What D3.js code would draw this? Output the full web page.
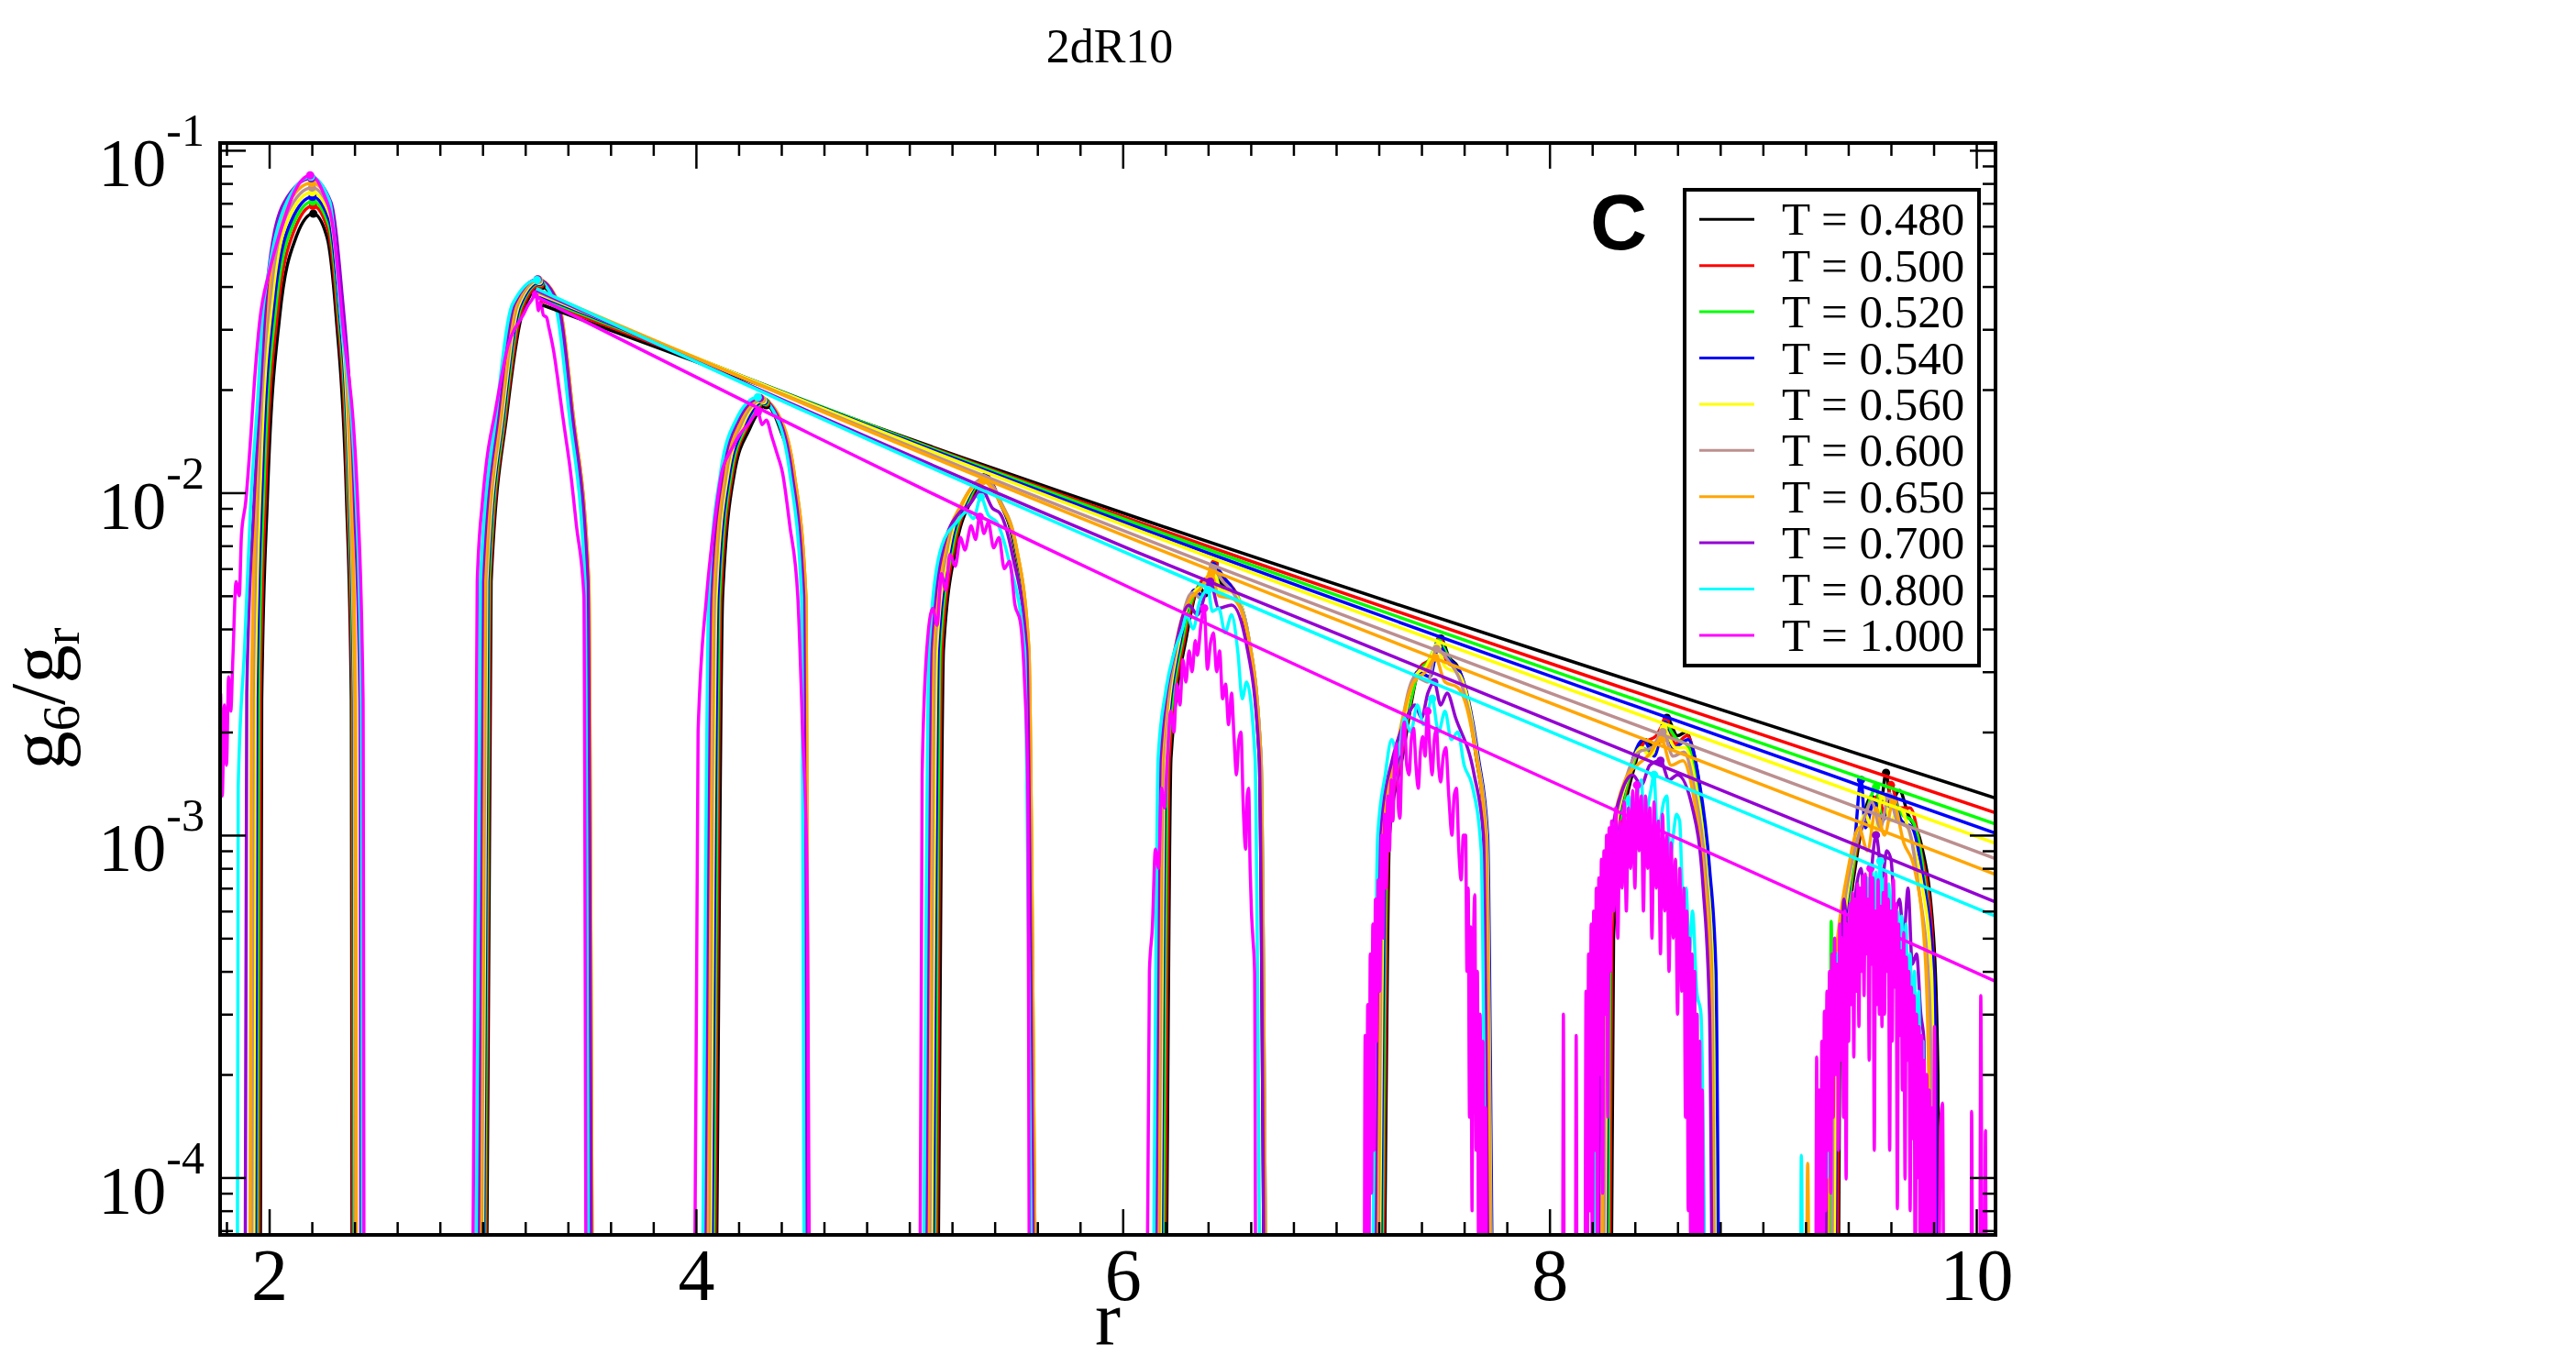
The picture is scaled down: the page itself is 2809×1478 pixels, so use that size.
<!DOCTYPE html>
<html>
<head>
<meta charset="utf-8">
<script src="https://cdn.jsdelivr.net/npm/d3@7"></script>
<style>
  body { margin: 0; background: #fff; }
  svg text { font-family: "Liberation Serif", "Times New Roman", serif; fill: #000; }
</style>
</head>
<body>
<svg id="chart"></svg>
<script>
// legend labels and xmgrace colours
const temps = ["0.480", "0.500", "0.520", "0.540", "0.560", "0.600", "0.650", "0.700", "0.800", "1.000"];
const lineColors = ["#000000", "#ff0000", "#00ff00", "#0000ff", "#ffff00", "#bc8f8f", "#ffa500", "#9400d3", "#00ffff", "#ff00ff"];

// axis ticks
const xMajor = [2, 4, 6, 8, 10];
const yMajor = [1e-1, 1e-2, 1e-3, 1e-4];
const yExp = ["-1", "-2", "-3", "-4"];

// g6/gr outlines, [r, g6/gr] (2e-5 = below the frame)
const gT480 = [
  [1.957,2e-5],[1.965,2.5e-3],[1.992,0.0098],[2.049,0.0327],[2.125,0.0555],[2.207,0.0653],[2.272,0.0555],[2.314,0.0327],[2.362,0.0098],[2.385,2.5e-3],[2.39,2e-5],
  [3.015,2e-5],[3.04,5.5e-3],[3.115,0.0172],[3.19,0.034],[3.275,0.04],[3.35,0.034],[3.415,0.0172],[3.49,5.5e-3],[3.512,2e-5],
  [4.085,2e-5],[4.125,5e-3],[4.18,0.0114],[4.25,0.0153],[4.33,0.018],[4.395,0.0153],[4.45,0.0114],[4.505,5e-3],[4.522,2e-5],
  [5.125,2e-5],[5.16,3.5e-3],[5.22,7e-3],[5.29,9.5e-3],[5.36,0.0112],[5.42,9.5e-3],[5.49,7e-3],[5.55,3.5e-3],[5.592,2e-5],
  [6.195,2e-5],[6.226,1.68e-3],[6.30,3.84e-3],[6.36,5.3e-3],[6.39,5.0e-3],[6.43,6.2e-3],[6.465,5.4e-3],[6.51,5.3e-3],[6.58,3.84e-3],[6.64,1.68e-3],[6.672,2e-5],
  [7.215,2e-5],[7.25,1e-3],[7.31,1.68e-3],[7.40,3.1e-3],[7.44,3.0e-3],[7.49,3.75e-3],[7.53,3.3e-3],[7.57,3.1e-3],[7.657,1.68e-3],[7.70,1e-3],[7.732,2e-5],
  [8.285,2e-5],[8.30,5e-4],[8.33,9e-4],[8.40,1.6e-3],[8.45,1.9e-3],[8.49,1.8e-3],[8.55,2.2e-3],[8.60,1.95e-3],[8.64,2.0e-3],[8.69,1.5e-3],[8.74,8e-4],[8.77,4e-4],[8.79,2e-5],
  [9.35,2e-5],[9.36,2.5e-4],[9.40,5.5e-4],[9.45,9.5e-4],[9.51,1.3e-3],[9.55,1.2e-3],[9.577,1.52e-3],[9.60,1.25e-3],[9.64,1.35e-3],[9.68,1.15e-3],[9.74,9.5e-4],[9.80,5e-4],[9.82,2e-4],[9.825,2e-5]
];
const gT500 = [
  [1.95,2e-5],[1.958,2.5e-3],[1.984,0.0103],[2.041,0.0344],[2.118,0.0585],[2.205,0.0688],[2.276,0.0585],[2.318,0.0344],[2.366,0.0103],[2.389,2.5e-3],[2.394,2e-5],
  [3.01,2e-5],[3.035,5.5e-3],[3.11,0.0172],[3.185,0.0344],[3.272,0.0405],[3.352,0.0344],[3.417,0.0172],[3.492,5.5e-3],[3.514,2e-5],
  [4.077,2e-5],[4.117,5e-3],[4.172,0.0114],[4.242,0.0156],[4.33,0.0183],[4.398,0.0156],[4.453,0.0114],[4.508,5e-3],[4.525,2e-5],
  [5.117,2e-5],[5.152,3.5e-3],[5.212,7e-3],[5.282,9.5e-3],[5.36,0.0112],[5.423,9.5e-3],[5.493,7e-3],[5.553,3.5e-3],[5.595,2e-5],
  [6.187,2e-5],[6.218,1.68e-3],[6.292,3.84e-3],[6.352,5.3e-3],[6.385,5.6e-3],[6.405,5.1e-3],[6.43,6.2e-3],[6.47,5.6e-3],[6.513,5.3e-3],[6.583,3.84e-3],[6.643,1.68e-3],[6.675,2e-5],
  [7.209,2e-5],[7.244,1e-3],[7.304,1.68e-3],[7.394,3.1e-3],[7.45,3.3e-3],[7.485,3.7e-3],[7.52,3.2e-3],[7.573,3.05e-3],[7.66,1.68e-3],[7.703,1e-3],[7.735,2e-5],
  [8.277,2e-5],[8.292,5e-4],[8.322,9e-4],[8.392,1.6e-3],[8.44,1.85e-3],[8.50,1.95e-3],[8.545,2.15e-3],[8.59,1.85e-3],[8.645,1.95e-3],[8.695,1.5e-3],[8.745,8e-4],[8.775,4e-4],[8.795,2e-5],
  [9.345,2e-5],[9.355,2.5e-4],[9.395,5.5e-4],[9.445,9.5e-4],[9.50,1.2e-3],[9.54,1.3e-3],[9.57,1.15e-3],[9.60,1.4e-3],[9.64,1.2e-3],[9.69,1.2e-3],[9.74,9e-4],[9.79,5.5e-4],[9.812,2e-4],[9.818,2e-5]
];
const gT520 = [
  [1.942,2e-5],[1.95,2.5e-3],[1.976,0.0106],[2.033,0.0355],[2.11,0.0603],[2.204,0.0709],[2.28,0.0603],[2.322,0.0355],[2.37,0.0106],[2.393,2.5e-3],[2.398,2e-5],
  [3.005,2e-5],[3.03,5.5e-3],[3.105,0.0172],[3.18,0.0349],[3.27,0.041],[3.354,0.0349],[3.419,0.0172],[3.494,5.5e-3],[3.516,2e-5],
  [4.07,2e-5],[4.11,5e-3],[4.165,0.0114],[4.235,0.0156],[4.325,0.0184],[4.40,0.0156],[4.455,0.0114],[4.51,5e-3],[4.527,2e-5],
  [5.109,2e-5],[5.144,3.5e-3],[5.204,7e-3],[5.274,9.4e-3],[5.355,0.0111],[5.425,9.4e-3],[5.495,7e-3],[5.555,3.5e-3],[5.597,2e-5],
  [6.179,2e-5],[6.21,1.68e-3],[6.284,3.84e-3],[6.344,5.2e-3],[6.39,5.5e-3],[6.425,6.1e-3],[6.455,5.3e-3],[6.516,5.2e-3],[6.586,3.84e-3],[6.646,1.68e-3],[6.678,2e-5],
  [7.203,2e-5],[7.238,1e-3],[7.298,1.68e-3],[7.388,3.0e-3],[7.43,3.2e-3],[7.48,3.65e-3],[7.54,3.2e-3],[7.575,3.0e-3],[7.662,1.68e-3],[7.705,1e-3],[7.737,2e-5],
  [8.269,2e-5],[8.284,5e-4],[8.314,9e-4],[8.384,1.55e-3],[8.43,1.8e-3],[8.48,1.75e-3],[8.54,2.1e-3],[8.60,1.9e-3],[8.64,1.85e-3],[8.69,1.45e-3],[8.74,8e-4],[8.77,4e-4],[8.79,2e-5],
  [9.31,2e-5],[9.32,5.6e-4],[9.33,1.5e-4],[9.345,3e-4],[9.39,5.5e-4],[9.44,9.5e-4],[9.49,1.2e-3],[9.53,1.38e-3],[9.56,1.1e-3],[9.60,1.3e-3],[9.65,1.15e-3],[9.70,1.1e-3],[9.75,8e-4],[9.79,4.5e-4],[9.808,2e-4],[9.815,2e-5]
];
const gT540 = [
  [1.934,2e-5],[1.942,2.5e-3],[1.968,0.011],[2.025,0.0366],[2.103,0.0621],[2.203,0.0731],[2.283,0.0621],[2.325,0.0366],[2.373,0.011],[2.396,2.5e-3],[2.401,2e-5],
  [3.0,2e-5],[3.025,5.5e-3],[3.1,0.0172],[3.175,0.035],[3.268,0.0412],[3.356,0.035],[3.421,0.0172],[3.496,5.5e-3],[3.518,2e-5],
  [4.063,2e-5],[4.103,5e-3],[4.158,0.0114],[4.228,0.0157],[4.32,0.0185],[4.402,0.0157],[4.457,0.0114],[4.512,5e-3],[4.529,2e-5],
  [5.101,2e-5],[5.136,3.5e-3],[5.196,7e-3],[5.266,9.4e-3],[5.355,0.0111],[5.427,9.4e-3],[5.497,7e-3],[5.557,3.5e-3],[5.599,2e-5],
  [6.171,2e-5],[6.202,1.68e-3],[6.276,3.84e-3],[6.336,5.2e-3],[6.375,5.0e-3],[6.425,6.1e-3],[6.48,5.6e-3],[6.518,5.2e-3],[6.588,3.84e-3],[6.648,1.68e-3],[6.68,2e-5],
  [7.197,2e-5],[7.232,1e-3],[7.292,1.68e-3],[7.382,3.0e-3],[7.44,2.9e-3],[7.48,3.6e-3],[7.52,3.3e-3],[7.58,3.0e-3],[7.667,1.68e-3],[7.71,1e-3],[7.742,2e-5],
  [8.261,2e-5],[8.276,5e-4],[8.306,9e-4],[8.376,1.55e-3],[8.44,1.9e-3],[8.49,1.7e-3],[8.54,2.1e-3],[8.58,1.8e-3],[8.65,1.9e-3],[8.70,1.45e-3],[8.75,8e-4],[8.78,4e-4],[8.80,2e-5],
  [9.335,2e-5],[9.345,2.5e-4],[9.385,5.5e-4],[9.43,9.5e-4],[9.46,1.45e-3],[9.48,1.05e-3],[9.52,1.25e-3],[9.56,1.1e-3],[9.60,1.3e-3],[9.65,1.1e-3],[9.70,1.05e-3],[9.75,7.5e-4],[9.80,4e-4],[9.81,2e-4],[9.815,2e-5]
];
const gT560 = [
  [1.926,2e-5],[1.934,2.5e-3],[1.96,0.0113],[2.017,0.0377],[2.095,0.0641],[2.202,0.0754],[2.286,0.0641],[2.328,0.0377],[2.376,0.0113],[2.399,2.5e-3],[2.404,2e-5],
  [2.995,2e-5],[3.02,5.5e-3],[3.095,0.0172],[3.17,0.0353],[3.265,0.0415],[3.358,0.0353],[3.423,0.0172],[3.498,5.5e-3],[3.52,2e-5],
  [4.055,2e-5],[4.095,5e-3],[4.15,0.0114],[4.22,0.0158],[4.315,0.0186],[4.405,0.0158],[4.46,0.0114],[4.515,5e-3],[4.532,2e-5],
  [5.093,2e-5],[5.128,3.5e-3],[5.188,7e-3],[5.258,9.35e-3],[5.35,0.011],[5.43,9.35e-3],[5.50,7e-3],[5.56,3.5e-3],[5.602,2e-5],
  [6.165,2e-5],[6.196,1.68e-3],[6.27,3.84e-3],[6.33,5.1e-3],[6.38,5.4e-3],[6.42,6.0e-3],[6.46,5.2e-3],[6.518,5.1e-3],[6.588,3.84e-3],[6.648,1.68e-3],[6.68,2e-5],
  [7.191,2e-5],[7.226,1e-3],[7.286,1.68e-3],[7.376,2.95e-3],[7.42,3.1e-3],[7.475,3.55e-3],[7.51,3.1e-3],[7.576,2.95e-3],[7.663,1.68e-3],[7.706,1e-3],[7.738,2e-5],
  [8.255,2e-5],[8.27,5e-4],[8.30,9e-4],[8.37,1.5e-3],[8.43,1.8e-3],[8.47,1.7e-3],[8.535,2.05e-3],[8.59,1.8e-3],[8.635,1.8e-3],[8.685,1.4e-3],[8.735,8e-4],[8.765,4e-4],[8.785,2e-5],
  [9.33,2e-5],[9.34,2.5e-4],[9.38,5.5e-4],[9.43,9e-4],[9.48,1.15e-3],[9.52,1.0e-3],[9.56,1.3e-3],[9.60,1.1e-3],[9.64,1.2e-3],[9.69,1.0e-3],[9.74,7.5e-4],[9.79,4e-4],[9.80,1.5e-4],[9.805,2e-5]
];
const gT600 = [
  [1.917,2e-5],[1.925,2.5e-3],[1.952,0.0117],[2.009,0.0389],[2.088,0.0661],[2.201,0.0778],[2.289,0.0661],[2.331,0.0389],[2.379,0.0117],[2.402,2.5e-3],[2.407,2e-5],
  [2.99,2e-5],[3.015,5.5e-3],[3.09,0.0172],[3.165,0.0355],[3.263,0.0418],[3.358,0.0355],[3.423,0.0172],[3.498,5.5e-3],[3.52,2e-5],
  [4.048,2e-5],[4.088,5e-3],[4.143,0.0114],[4.213,0.0159],[4.31,0.0187],[4.405,0.0159],[4.46,0.0114],[4.515,5e-3],[4.532,2e-5],
  [5.085,2e-5],[5.12,3.5e-3],[5.18,7e-3],[5.25,9.35e-3],[5.35,0.011],[5.43,9.35e-3],[5.50,7e-3],[5.56,3.5e-3],[5.602,2e-5],
  [6.159,2e-5],[6.19,1.68e-3],[6.264,3.84e-3],[6.324,5.1e-3],[6.37,4.9e-3],[6.42,6.0e-3],[6.47,5.5e-3],[6.518,5.1e-3],[6.588,3.84e-3],[6.648,1.68e-3],[6.68,2e-5],
  [7.185,2e-5],[7.22,1e-3],[7.28,1.68e-3],[7.37,2.9e-3],[7.43,2.8e-3],[7.47,3.5e-3],[7.53,3.2e-3],[7.574,2.9e-3],[7.661,1.68e-3],[7.704,1e-3],[7.736,2e-5],
  [8.249,2e-5],[8.264,5e-4],[8.294,9e-4],[8.364,1.5e-3],[8.42,1.75e-3],[8.48,1.8e-3],[8.53,2.0e-3],[8.58,1.7e-3],[8.63,1.75e-3],[8.68,1.35e-3],[8.73,8e-4],[8.76,4e-4],[8.78,2e-5],
  [9.32,2e-5],[9.33,2.5e-4],[9.37,5.5e-4],[9.42,8.5e-4],[9.47,1.1e-3],[9.51,1.25e-3],[9.55,1.05e-3],[9.59,1.3e-3],[9.63,1.1e-3],[9.68,1.05e-3],[9.73,7e-4],[9.78,3.5e-4],[9.79,1.5e-4],[9.795,2e-5]
];
const gT650 = [
  [1.908,2e-5],[1.917,2.5e-3],[1.944,0.012],[2.001,0.0402],[2.08,0.0683],[2.2,0.0803],[2.292,0.0683],[2.334,0.0402],[2.382,0.012],[2.405,2.5e-3],[2.41,2e-5],
  [2.985,2e-5],[3.01,5.5e-3],[3.085,0.0172],[3.16,0.0357],[3.26,0.042],[3.358,0.0357],[3.423,0.0172],[3.498,5.5e-3],[3.52,2e-5],
  [4.041,2e-5],[4.081,5e-3],[4.136,0.0114],[4.206,0.016],[4.305,0.0188],[4.405,0.016],[4.46,0.0114],[4.515,5e-3],[4.532,2e-5],
  [5.077,2e-5],[5.112,3.5e-3],[5.172,7e-3],[5.242,9.2e-3],[5.345,0.0108],[5.43,9.2e-3],[5.50,7e-3],[5.56,3.5e-3],[5.602,2e-5],
  [6.153,2e-5],[6.184,1.68e-3],[6.258,3.84e-3],[6.318,4.9e-3],[6.36,5.2e-3],[6.415,5.8e-3],[6.45,5.0e-3],[6.516,4.9e-3],[6.586,3.84e-3],[6.646,1.68e-3],[6.678,2e-5],
  [7.179,2e-5],[7.214,1e-3],[7.274,1.68e-3],[7.364,2.8e-3],[7.42,3.0e-3],[7.465,3.3e-3],[7.51,2.8e-3],[7.57,2.7e-3],[7.657,1.68e-3],[7.70,1e-3],[7.732,2e-5],
  [8.24,2e-5],[8.255,5e-4],[8.285,9e-4],[8.355,1.45e-3],[8.41,1.6e-3],[8.46,1.7e-3],[8.525,1.9e-3],[8.57,1.6e-3],[8.625,1.65e-3],[8.675,1.3e-3],[8.725,7.5e-4],[8.755,4e-4],[8.775,2e-5],
  [9.20,2e-5],[9.21,1.1e-4],[9.22,2e-5],[9.30,2e-5],[9.31,2.5e-4],[9.35,5e-4],[9.40,8e-4],[9.45,1.05e-3],[9.49,9e-4],[9.53,1.2e-3],[9.57,1.0e-3],[9.61,1.25e-3],[9.66,9.5e-4],[9.71,8e-4],[9.76,4.5e-4],[9.78,1.5e-4],[9.785,2e-5]
];
const gT700 = [
  [1.886,2e-5],[1.895,2.6e-3],[1.928,9.1e-3],[1.96,0.0205],[1.992,0.0414],[2.07,0.0704],[2.198,0.0828],[2.29,0.0704],[2.336,0.0414],[2.40,0.0093],[2.425,2.5e-3],[2.432,2e-5],
  [2.975,2e-5],[3.0,5.5e-3],[3.075,0.0172],[3.15,0.0357],[3.258,0.042],[3.354,0.0357],[3.419,0.0172],[3.494,5.5e-3],[3.516,2e-5],
  [4.03,2e-5],[4.07,5e-3],[4.125,0.0114],[4.195,0.0161],[4.30,0.0189],[4.395,0.0161],[4.45,0.0114],[4.505,5e-3],[4.522,2e-5],
  [5.067,2e-5],[5.102,3.5e-3],[5.162,7e-3],[5.232,8.7e-3],[5.28,9.2e-3],[5.34,0.0102],[5.39,9.0e-3],[5.425,8.7e-3],[5.485,6.5e-3],[5.55,3.5e-3],[5.595,2e-5],
  [6.145,2e-5],[6.176,1.68e-3],[6.25,3.6e-3],[6.31,4.7e-3],[6.35,4.4e-3],[6.41,5.5e-3],[6.45,4.6e-3],[6.51,4.7e-3],[6.58,3.6e-3],[6.64,1.68e-3],[6.672,2e-5],
  [7.17,2e-5],[7.205,1e-3],[7.265,1.68e-3],[7.33,2.2e-3],[7.37,2.4e-3],[7.40,2.2e-3],[7.43,2.6e-3],[7.46,2.8e-3],[7.49,2.4e-3],[7.52,2.6e-3],[7.56,2.2e-3],[7.647,1.5e-3],[7.69,1e-3],[7.722,2e-5],
  [8.225,2e-5],[8.24,5e-4],[8.28,9e-4],[8.34,1.35e-3],[8.39,1.5e-3],[8.43,1.4e-3],[8.47,1.6e-3],[8.52,1.65e-3],[8.56,1.45e-3],[8.60,1.5e-3],[8.67,1.2e-3],[8.72,7e-4],[8.75,3e-4],[8.77,2e-5],
  [9.29,2e-5],[9.30,2e-4],[9.32,3.2e-4],[9.34,4.5e-4],[9.36,3.5e-4],[9.38,6.5e-4],[9.40,4.8e-4],[9.42,5.5e-4],[9.44,7.2e-4],[9.46,8e-4],[9.48,6e-4],[9.50,7e-4],[9.53,1.0e-3],[9.56,7.5e-4],[9.58,9e-4],[9.60,8.5e-4],[9.62,6e-4],[9.64,6.5e-4],[9.66,5e-4],[9.68,7e-4],[9.70,4.2e-4],[9.72,4.5e-4],[9.74,3e-4],[9.755,2.5e-4],[9.765,2e-5]
];
const gT800 = [
  [1.85,2e-5],[1.855,1.38e-3],[1.885,3.55e-3],[1.913,9.1e-3],[1.949,0.02],[1.967,0.0318],[2.0,0.045],[2.085,0.0711],[2.196,0.0837],[2.283,0.0711],[2.338,0.0318],[2.408,9.3e-3],[2.432,2.5e-3],[2.44,2e-5],
  [2.965,2e-5],[2.99,5.5e-3],[3.065,0.0172],[3.14,0.0355],[3.255,0.0418],[3.34,0.0355],[3.405,0.0172],[3.48,5.5e-3],[3.502,2e-5],
  [4.02,2e-5],[4.06,5e-3],[4.115,0.0114],[4.185,0.0162],[4.29,0.019],[4.385,0.0162],[4.44,0.0114],[4.495,5e-3],[4.512,2e-5],
  [5.057,2e-5],[5.092,3.5e-3],[5.152,7e-3],[5.222,8.2e-3],[5.27,8.8e-3],[5.30,8.4e-3],[5.335,9.7e-3],[5.37,8.6e-3],[5.41,8.2e-3],[5.47,6.2e-3],[5.54,3.5e-3],[5.585,2e-5],
  [6.135,2e-5],[6.166,1.68e-3],[6.20,2.6e-3],[6.24,3.4e-3],[6.28,4.0e-3],[6.30,4.4e-3],[6.33,4.0e-3],[6.36,4.8e-3],[6.40,5.2e-3],[6.42,4.5e-3],[6.45,4.6e-3],[6.48,3.9e-3],[6.51,4.4e-3],[6.54,3.4e-3],[6.56,2.5e-3],[6.58,2.8e-3],[6.62,1.68e-3],[6.652,2e-5],
  [7.16,2e-5],[7.195,1e-3],[7.23,1.5e-3],[7.26,1.9e-3],[7.29,1.7e-3],[7.32,2.2e-3],[7.35,2.0e-3],[7.38,2.4e-3],[7.41,2.1e-3],[7.45,2.5e-3],[7.48,2.0e-3],[7.51,2.3e-3],[7.54,1.9e-3],[7.57,2.0e-3],[7.60,1.6e-3],[7.637,1.4e-3],[7.68,9e-4],[7.712,2e-5],
  [8.20,2e-5],[8.22,5e-4],[8.235,3.5e-4],[8.25,8e-4],[8.265,5e-4],[8.28,7e-4],[8.295,9e-4],[8.31,1.1e-3],[8.325,7.5e-4],[8.34,9e-4],[8.355,1.2e-3],[8.37,1.3e-3],[8.385,9e-4],[8.40,1.1e-3],[8.415,1.35e-3],[8.43,1.45e-3],[8.445,1.0e-3],[8.46,1.2e-3],[8.475,1.35e-3],[8.49,1.5e-3],[8.505,1.0e-3],[8.52,1.1e-3],[8.535,1.25e-3],[8.55,1.3e-3],[8.565,8.5e-4],[8.58,1.0e-3],[8.595,1.15e-3],[8.61,1.1e-3],[8.625,6.5e-4],[8.64,7e-4],[8.655,4.5e-4],[8.67,6e-4],[8.69,3.5e-4],[8.71,3e-4],[8.74,2e-5],
  [9.175,2e-5],[9.18,1.16e-4],[9.19,2e-5],[9.265,2e-5],[9.272,1.5e-4],[9.28,6e-5],[9.29,2.2e-4],[9.30,1.0e-4],[9.31,3.5e-4],[9.32,1.8e-4],[9.33,3.0e-4],[9.34,2.2e-4],[9.35,4.5e-4],[9.36,2.6e-4],[9.37,5e-4],[9.38,3e-4],[9.39,5.5e-4],[9.40,3.5e-4],[9.41,6e-4],[9.42,4e-4],[9.43,6.5e-4],[9.44,3.8e-4],[9.45,7e-4],[9.46,4.5e-4],[9.47,7.2e-4],[9.48,5e-4],[9.49,7.5e-4],[9.50,4.8e-4],[9.51,8.0e-4],[9.52,5.5e-4],[9.53,7.8e-4],[9.54,5.2e-4],[9.55,8.4e-4],[9.56,6e-4],[9.57,7.5e-4],[9.58,5e-4],[9.59,7.2e-4],[9.60,4.5e-4],[9.61,7e-4],[9.62,4.2e-4],[9.63,6e-4],[9.64,4e-4],[9.65,5.8e-4],[9.66,3.5e-4],[9.67,5.5e-4],[9.68,3e-4],[9.69,4.5e-4],[9.70,2.5e-4],[9.71,4e-4],[9.72,2e-4],[9.73,3.5e-4],[9.74,1.5e-4],[9.75,2.5e-4],[9.76,2e-5]
];
const gT1000 = [
  [1.765,1.1e-3],[1.772,2.6e-3],[1.78,1.3e-3],[1.79,2.4e-3],[1.80,1.6e-3],[1.81,2.9e-3],[1.82,2.3e-3],[1.83,3.3e-3],[1.845,5.5e-3],[1.86,5.0e-3],[1.87,7.5e-3],[1.89,9.4e-3],[1.915,0.015],[1.93,0.0207],[1.956,0.0318],[2.0,0.044],[2.056,0.0589],[2.12,0.076],[2.192,0.0845],[2.25,0.076],[2.30,0.0589],[2.343,0.0318],[2.415,9.3e-3],[2.44,2.5e-3],[2.446,2e-5],
  [2.95,2e-5],[2.975,5.5e-3],[3.0,9.5e-3],[3.02,0.0125],[3.059,0.0172],[3.09,0.022],[3.12,0.027],[3.15,0.03],[3.17,0.0315],[3.19,0.033],[3.21,0.035],[3.23,0.0365],[3.25,0.038],[3.262,0.034],[3.272,0.0362],[3.285,0.033],[3.30,0.0325],[3.31,0.0305],[3.335,0.0255],[3.35,0.022],[3.373,0.0172],[3.39,0.0145],[3.41,0.0118],[3.44,8e-3],[3.475,5.0e-3],[3.488,2e-5],
  [3.99,2e-5],[4.01,2e-3],[4.05,5e-3],[4.085,8e-3],[4.12,0.0114],[4.17,0.0135],[4.20,0.0146],[4.25,0.016],[4.29,0.0172],[4.31,0.0158],[4.33,0.0163],[4.355,0.0146],[4.38,0.013],[4.406,0.0114],[4.44,8e-3],[4.477,5e-3],[4.50,2e-3],[4.52,8e-4],[4.538,2e-5],
  [5.047,2e-5],[5.06,1.5e-3],[5.082,3.5e-3],[5.11,4.6e-3],[5.13,4.1e-3],[5.15,5.8e-3],[5.17,5.2e-3],[5.19,6.6e-3],[5.215,6.1e-3],[5.24,7.4e-3],[5.26,6.8e-3],[5.29,8.0e-3],[5.31,7.3e-3],[5.33,8.5e-3],[5.35,7.6e-3],[5.37,8.2e-3],[5.395,6.9e-3],[5.42,7.4e-3],[5.445,6.0e-3],[5.47,6.3e-3],[5.495,4.7e-3],[5.52,4.2e-3],[5.54,2.8e-3],[5.555,1.4e-3],[5.565,2e-5],
  [6.11,2e-5],[6.125,4e-4],[6.139,5.4e-4],[6.153,9.1e-4],[6.168,8e-4],[6.182,1.37e-3],[6.196,1.2e-3],[6.209,1.68e-3],[6.225,2.3e-3],[6.24,2.0e-3],[6.253,2.76e-3],[6.268,2.4e-3],[6.282,3.25e-3],[6.296,2.8e-3],[6.311,3.45e-3],[6.325,3.0e-3],[6.34,3.7e-3],[6.35,3.35e-3],[6.368,4.2e-3],[6.382,4.6e-3],[6.397,3.05e-3],[6.41,3.6e-3],[6.425,3.9e-3],[6.44,3.0e-3],[6.454,3.45e-3],[6.468,2.5e-3],[6.482,2.76e-3],[6.496,2.1e-3],[6.51,2.6e-3],[6.522,1.9e-3],[6.533,1.5e-3],[6.544,1.9e-3],[6.554,2.0e-3],[6.565,1.2e-3],[6.576,9.1e-4],[6.583,1.3e-3],[6.59,1.37e-3],[6.597,8e-4],[6.603,6e-4],[6.61,5e-4],[6.618,4e-4],[6.625,2e-5],
  [7.13,2e-5],[7.136,2.6e-4],[7.142,4e-5],[7.148,3.2e-4],[7.154,6e-5],[7.16,4.5e-4],[7.166,9e-5],[7.172,5.5e-4],[7.178,1.2e-4],[7.184,6.5e-4],[7.19,2.5e-4],[7.197,7.4e-4],[7.204,3.5e-4],[7.213,1.0e-3],[7.22,5e-4],[7.227,1.15e-3],[7.234,7e-4],[7.242,1.3e-3],[7.25,9e-4],[7.258,1.45e-3],[7.266,1.1e-3],[7.275,1.7e-3],[7.284,1.85e-3],[7.292,1.2e-3],[7.299,1.12e-3],[7.31,1.9e-3],[7.32,2.14e-3],[7.331,1.6e-3],[7.342,1.5e-3],[7.352,1.9e-3],[7.363,2.05e-3],[7.374,1.6e-3],[7.385,1.37e-3],[7.395,1.75e-3],[7.406,1.94e-3],[7.417,1.7e-3],[7.428,2.3e-3],[7.439,1.8e-3],[7.45,1.5e-3],[7.46,1.9e-3],[7.47,2.05e-3],[7.48,1.6e-3],[7.49,1.43e-3],[7.502,1.7e-3],[7.514,1.8e-3],[7.528,1.3e-3],[7.543,1.0e-3],[7.553,1.3e-3],[7.564,1.37e-3],[7.575,9e-4],[7.586,7.4e-4],[7.596,1.0e-3],[7.607,1.0e-3],[7.613,4e-4],[7.619,7e-4],[7.625,1.5e-4],[7.631,5.4e-4],[7.637,8e-5],[7.643,4.5e-4],[7.65,6.7e-4],[7.656,1.2e-4],[7.662,4e-4],[7.668,5e-5],[7.675,3e-4],[7.681,4e-5],[7.688,2.5e-4],[7.694,3e-5],[7.70,1.6e-4],[7.706,2e-5],
  [8.06,2e-5],[8.065,3e-4],[8.07,2e-5],[8.12,2e-5],[8.125,2.6e-4],[8.13,2e-5],[8.165,2e-5],[8.171,3.5e-4],[8.177,5e-5],[8.183,4.5e-4],[8.189,8e-5],[8.195,5.5e-4],[8.201,4e-5],[8.207,6e-4],[8.213,1.2e-4],[8.219,7e-4],[8.225,6e-5],[8.231,7.5e-4],[8.237,2e-4],[8.243,8.5e-4],[8.249,9e-5],[8.255,9e-4],[8.261,3e-4],[8.267,1.0e-3],[8.273,1.5e-4],[8.279,1.05e-3],[8.285,4e-4],[8.291,1.1e-3],[8.30,6e-4],[8.31,1.2e-3],[8.32,5e-4],[8.33,1.1e-3],[8.34,7e-4],[8.35,1.25e-3],[8.36,6e-4],[8.37,1.2e-3],[8.38,8e-4],[8.39,1.35e-3],[8.40,7e-4],[8.41,1.4e-3],[8.42,9e-4],[8.43,1.3e-3],[8.44,6e-4],[8.45,1.3e-3],[8.46,8e-4],[8.47,1.2e-3],[8.48,5e-4],[8.49,1.25e-3],[8.50,7e-4],[8.51,1.1e-3],[8.52,4.5e-4],[8.53,1.15e-3],[8.54,6e-4],[8.55,1.0e-3],[8.56,4e-4],[8.57,9.5e-4],[8.58,5e-4],[8.59,8.5e-4],[8.60,3e-4],[8.61,8e-4],[8.62,3.5e-4],[8.63,7e-4],[8.637,1.5e-4],[8.644,6e-4],[8.65,8e-5],[8.656,5e-4],[8.662,5e-5],[8.668,4.5e-4],[8.674,4e-5],[8.68,4e-4],[8.686,3e-5],[8.692,3e-4],[8.698,3e-5],[8.704,2.5e-4],[8.71,2e-5],[8.716,1.8e-4],[8.722,2e-5],
  [9.246,2e-5],[9.252,2.25e-4],[9.258,3e-5],[9.264,1.8e-4],[9.27,2e-5],[9.276,2.5e-4],[9.282,5e-5],[9.288,3.06e-4],[9.294,8e-5],[9.30,3.5e-4],[9.306,1.2e-4],[9.312,4e-4],[9.318,9e-5],[9.324,4.5e-4],[9.33,1.5e-4],[9.336,5e-4],[9.342,2e-4],[9.348,4.2e-4],[9.354,1.2e-4],[9.36,5.5e-4],[9.366,2.2e-4],[9.372,5e-4],[9.378,1.5e-4],[9.384,6e-4],[9.39,9.9e-5],[9.396,5.5e-4],[9.402,2.5e-4],[9.408,6.3e-4],[9.414,3.2e-4],[9.42,6.8e-4],[9.426,2.25e-4],[9.432,6.5e-4],[9.438,3.5e-4],[9.444,7.2e-4],[9.45,2.76e-4],[9.456,7.0e-4],[9.462,4.0e-4],[9.468,7.6e-4],[9.474,3.4e-4],[9.48,7.7e-4],[9.486,4.5e-4],[9.492,6.5e-4],[9.498,2.2e-4],[9.504,8.0e-4],[9.51,4.2e-4],[9.516,7.5e-4],[9.522,1.2e-4],[9.528,6.0e-4],[9.534,3.2e-4],[9.54,7.4e-4],[9.546,3.0e-4],[9.552,6.2e-4],[9.558,2.76e-4],[9.564,6.8e-4],[9.57,3.0e-4],[9.576,7.7e-4],[9.582,4.0e-4],[9.588,6.5e-4],[9.594,1.2e-4],[9.60,6.0e-4],[9.606,2.5e-4],[9.612,7.4e-4],[9.618,3.6e-4],[9.624,6.3e-4],[9.63,8.1e-5],[9.636,5.5e-4],[9.642,2.6e-4],[9.648,4.6e-4],[9.654,1.8e-4],[9.66,5.2e-4],[9.666,9.9e-5],[9.672,4.4e-4],[9.678,2.2e-4],[9.684,4.0e-4],[9.69,8e-5],[9.696,3.6e-4],[9.702,1.3e-4],[9.708,3.4e-4],[9.714,4e-5],[9.72,3.0e-4],[9.726,1.0e-4],[9.732,2.76e-4],[9.738,3e-5],[9.744,2.6e-4],[9.75,6e-5],[9.756,2.2e-4],[9.762,2e-5],[9.768,2.0e-4],[9.774,4e-5],[9.78,1.8e-4],[9.786,2e-5],[9.792,1.6e-4],[9.798,2e-5],[9.804,2.76e-4],[9.81,2e-5],[9.82,2e-5],[9.832,1.4e-4],[9.842,1.65e-4],[9.85,2e-5],
  [9.975,2e-5],[9.978,1.56e-4],[9.985,2e-5],[10.015,2e-5],[10.021,3.4e-4],[10.03,2e-5],[10.037,2e-5],[10.043,1.37e-4],[10.05,2e-5]
];
const seriesData = [gT480, gT500, gT520, gT540, gT560, gT600, gT650, gT700, gT800, gT1000];

// decay fits of the peak maxima: start point, value at r = 6.067, value at the right frame
const fitStartR = [3.281, 3.272, 3.268, 3.268, 3.264, 3.259, 3.255, 3.253, 3.251, 3.231];
const fitStartG = [0.03532, 0.03643, 0.03711, 0.03758, 0.03804, 0.03852, 0.03907, 0.03899, 0.03947, 0.03788];
const fitMidR = 6.067;
const fitMidG = [8.45e-3, 8.24e-3, 8.11e-3, 7.94e-3, 7.78e-3, 7.47e-3, 7.24e-3, 6.70e-3, 6.47e-3, 5.16e-3];
const fitEndR = 10.09;
const fitEndG = [1.283e-3, 1.162e-3, 1.077e-3, 1.013e-3, 9.47e-4, 8.54e-4, 7.68e-4, 6.38e-4, 5.80e-4, 3.74e-4];

// r ranges of the eight peaks (for the maxima markers)
const peakEdges = [1.7, 2.7, 3.75, 4.8, 5.85, 6.9, 7.95, 9.0, 9.9];

const W = 2809, H = 1478;
const frame = {left: 240, right: 2176, top: 156, bottom: 1347};

const svg = d3.select("#chart").attr("width", W).attr("height", H);
svg.append("rect").attr("width", W).attr("height", H).attr("fill", "#fff");

const x = d3.scaleLinear().domain([1.77, 10.09]).range([frame.left, frame.right]);
const y = d3.scaleLog().domain([6.8e-5, 0.105]).range([frame.bottom, frame.top]);

svg.append("clipPath").attr("id", "plotclip")
  .append("rect")
  .attr("x", frame.left).attr("y", frame.top)
  .attr("width", frame.right - frame.left).attr("height", frame.bottom - frame.top);

const plot = svg.append("g").attr("clip-path", "url(#plotclip)");

const line = d3.line()
  .x(d => x(d[0]))
  .y(d => y(d[1]))
  .curve(d3.curveMonotoneX);

// data curves
seriesData.forEach((pts, i) => {
  plot.append("path")
    .attr("d", line(pts))
    .attr("fill", "none")
    .attr("stroke", lineColors[i])
    .attr("stroke-width", 3.5)
    .attr("stroke-linejoin", "round");
});

// peak maxima markers
seriesData.forEach((pts, i) => {
  const tops = d3.pairs(peakEdges)
    .map(([a, b]) => d3.greatest(pts.filter(p => p[0] >= a && p[0] < b), p => p[1]))
    .filter(p => p);
  plot.selectAll(null)
    .data(tops)
    .enter().append("circle")
    .attr("cx", d => x(d[0]))
    .attr("cy", d => y(d[1]))
    .attr("r", 4.5)
    .attr("fill", lineColors[i]);
});

// fit curves
const fitLine = d3.line()
  .x(d => x(d[0]))
  .y(d => y(d[1]))
  .curve(d3.curveNatural);

lineColors.forEach((c, i) => {
  const pts = [[fitStartR[i], fitStartG[i]], [fitMidR, fitMidG[i]], [fitEndR, fitEndG[i]]];
  plot.append("path")
    .attr("d", fitLine(pts))
    .attr("fill", "none")
    .attr("stroke", c)
    .attr("stroke-width", 3.5);
});

// axes, ticks pointing inward on all four sides
const majorLen = 28, minorLen = 14;
const xMinor = d3.range(9, 51).map(i => +(i * 0.2).toFixed(1)).filter(v => Math.abs(v / 2 - Math.round(v / 2)) > 1e-6);
const yMinor = [];
[-5, -4, -3, -2, -1].forEach(e => {
  for (let m = 2; m <= 9; m++) {
    const v = m * Math.pow(10, e);
    if (v >= 6.8e-5 && v <= 0.105) yMinor.push(v);
  }
});

function styleAxis(g) {
  g.select(".domain").remove();
  g.attr("font-size", null).attr("font-family", null);
  g.selectAll(".tick line").attr("stroke", "#000").attr("stroke-width", 2.5);
}

const xb = svg.append("g").attr("transform", `translate(0,${frame.bottom})`)
  .call(d3.axisBottom(x).tickValues(xMajor).tickSize(-majorLen).tickSizeOuter(0).tickPadding(0))
  .call(styleAxis);
xb.selectAll(".tick text")
  .attr("y", 71).attr("dy", null)
  .style("font-size", "80px");

svg.append("g").attr("transform", `translate(0,${frame.bottom})`)
  .call(d3.axisBottom(x).tickValues(xMinor).tickSize(-minorLen).tickSizeOuter(0).tickFormat(""))
  .call(styleAxis);
svg.append("g").attr("transform", `translate(0,${frame.top})`)
  .call(d3.axisTop(x).tickValues(xMajor).tickSize(-majorLen).tickSizeOuter(0).tickFormat(""))
  .call(styleAxis);
svg.append("g").attr("transform", `translate(0,${frame.top})`)
  .call(d3.axisTop(x).tickValues(xMinor).tickSize(-minorLen).tickSizeOuter(0).tickFormat(""))
  .call(styleAxis);

const yl = svg.append("g").attr("transform", `translate(${frame.left},0)`)
  .call(d3.axisLeft(y).tickValues(yMajor).tickSize(-majorLen).tickSizeOuter(0).tickFormat(""))
  .call(styleAxis);
yl.selectAll(".tick").each(function(d, i) {
  const t = d3.select(this).append("text")
    .attr("x", -17).attr("y", 39)
    .attr("text-anchor", "end")
    .style("font-size", "74px");
  t.append("tspan").text("10");
  t.append("tspan").attr("dy", -44).style("font-size", "50px").text(yExp[i]);
});
svg.append("g").attr("transform", `translate(${frame.left},0)`)
  .call(d3.axisLeft(y).tickValues(yMinor).tickSize(-minorLen).tickSizeOuter(0).tickFormat(""))
  .call(styleAxis);
svg.append("g").attr("transform", `translate(${frame.right},0)`)
  .call(d3.axisRight(y).tickValues(yMajor).tickSize(-majorLen).tickSizeOuter(0).tickFormat(""))
  .call(styleAxis);
svg.append("g").attr("transform", `translate(${frame.right},0)`)
  .call(d3.axisRight(y).tickValues(yMinor).tickSize(-minorLen).tickSizeOuter(0).tickFormat(""))
  .call(styleAxis);

// frame
svg.append("rect")
  .attr("x", frame.left).attr("y", frame.top)
  .attr("width", frame.right - frame.left).attr("height", frame.bottom - frame.top)
  .attr("fill", "none").attr("stroke", "#000").attr("stroke-width", 4);

// title and axis labels
svg.append("text").attr("x", 1210).attr("y", 68)
  .attr("text-anchor", "middle").style("font-size", "52px").text("2dR10");

svg.append("text").attr("x", (frame.left + frame.right) / 2).attr("y", 1466)
  .attr("text-anchor", "middle").style("font-size", "84px").text("r");

const ylab = svg.append("text")
  .attr("transform", "translate(70,762) rotate(-90)")
  .attr("text-anchor", "middle")
  .style("font-size", "84px");
ylab.append("tspan").text("g");
ylab.append("tspan").attr("dy", 16).style("font-size", "57px").text("6");
ylab.append("tspan").attr("dy", -16).text("/");
ylab.append("tspan").text("g");
ylab.append("tspan").attr("dy", 16).style("font-size", "57px").text("r");

// panel letter
svg.append("text").attr("x", 1734).attr("y", 272)
  .style("font-family", "'Liberation Sans', Arial, sans-serif")
  .style("font-weight", "bold")
  .style("font-size", "86px")
  .text("C");

// legend
const legend = svg.append("g");
legend.append("rect")
  .attr("x", 1837).attr("y", 207).attr("width", 321).attr("height", 519)
  .attr("fill", "#fff").attr("stroke", "#000").attr("stroke-width", 4);
temps.forEach((t, i) => {
  const ly = 239.3 + i * 50.4;
  legend.append("line")
    .attr("x1", 1853).attr("x2", 1913).attr("y1", ly).attr("y2", ly)
    .attr("stroke", lineColors[i]).attr("stroke-width", 3);
  legend.append("text")
    .attr("x", 1943).attr("y", ly + 17)
    .style("font-size", "51px")
    .text(`T = ${t}`);
});
</script>
</body>
</html>
